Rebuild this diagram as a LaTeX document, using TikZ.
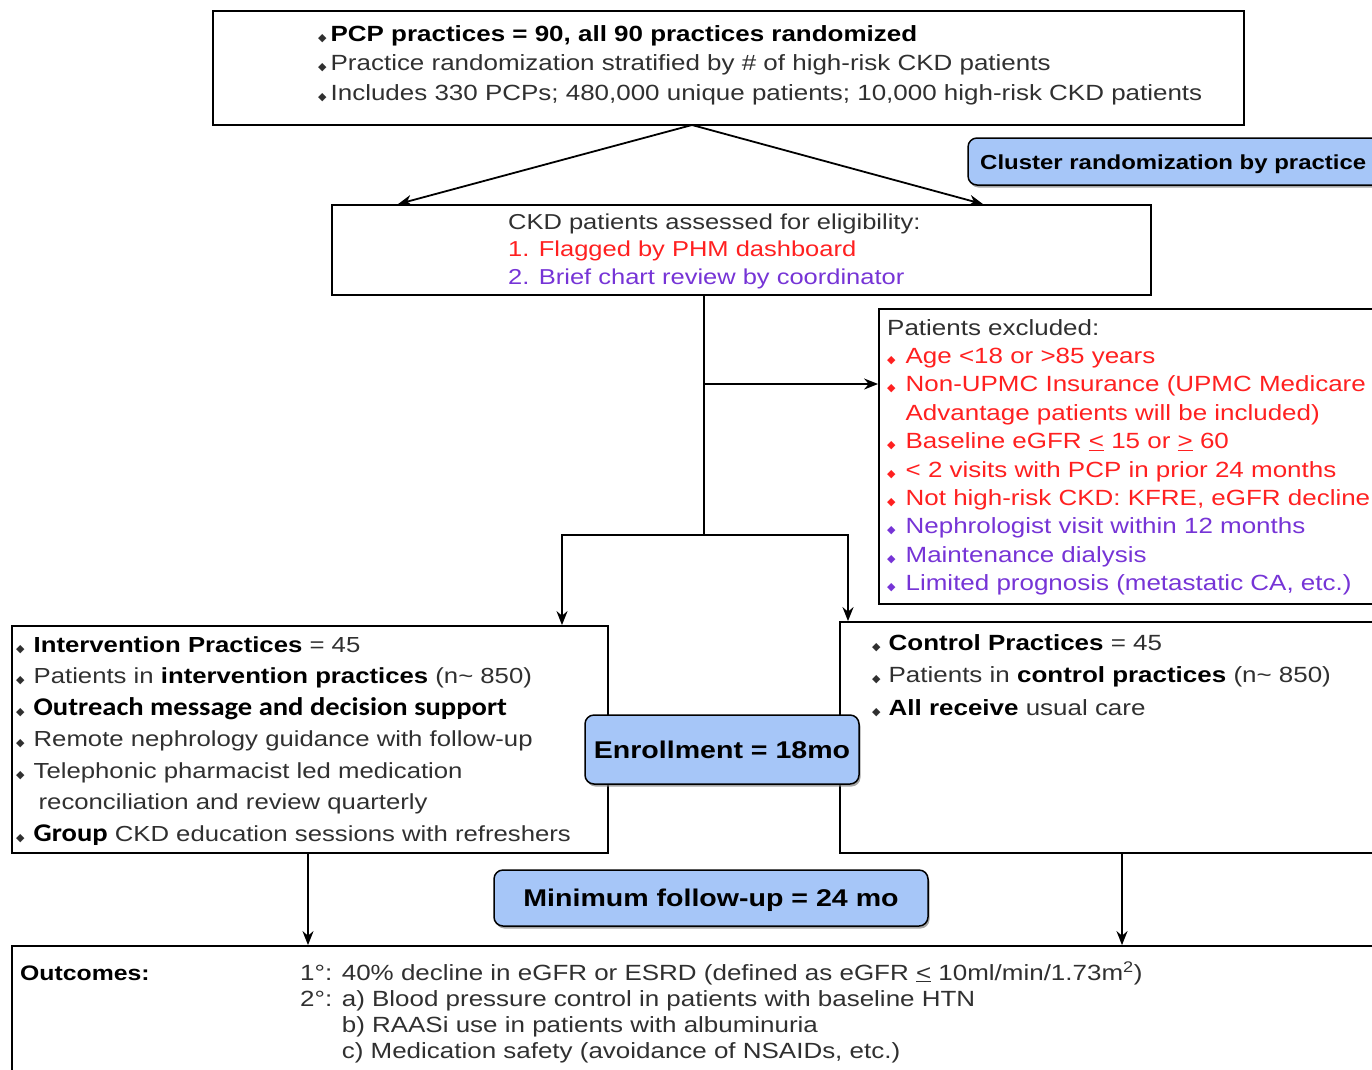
\documentclass[tikz,border=0pt]{standalone}
\usepackage{fontspec}
\setmainfont[FakeStretch=1.18]{Liberation Sans}
\newfontfamily\symfont{DejaVu Sans}
\newfontfamily\calfont[FakeStretch=1.12]{Carlito}
\usetikzlibrary{arrows.meta,fit,shadows}

\definecolor{flagred}{RGB}{255,32,32}
\definecolor{chartpurple}{RGB}{118,52,214}
\definecolor{phaseblue}{RGB}{166,198,248}
\definecolor{bodygray}{RGB}{48,48,48}

% small diamond bullet, optional gap after it
\newcommand{\dia}[1][5pt]{{\symfont\fontsize{11}{11}\selectfont ◆}\hspace{#1}}
\newcommand{\hi}[1]{\textbf{\color{black}#1}}
\newcommand{\hical}[1]{{\calfont\bfseries\color{black}\fontsize{25.5}{25}\selectfont #1}}

\tikzset{
  box/.style={draw, line width=1.8pt, inner sep=0pt},
  phase/.style={draw, line width=1.5pt, rounded corners=9pt, fill=phaseblue,
    inner sep=0pt,
    drop shadow={shadow xshift=1.5pt, shadow yshift=-2.5pt, opacity=0.7}},
  phaselabel/.style={inner sep=0pt, font=\bfseries\fontsize{24.2}{24}\selectfont,
    text height=17pt, text depth=0pt},
  arr/.style={-{Stealth[length=14pt,width=11pt]}, line width=1.8pt},
  txt/.style={anchor=base west, align=left, inner sep=0pt, text=bodygray},
}

\begin{document}
\begin{tikzpicture}[x=1pt, y=-1pt]
  \useasboundingbox (0,0) rectangle (1372,1069);
  \clip (0,0) rectangle (1372,1069);

  % boxes
  \node[box, fit={(213,11) (1244,125)}] (pcp) {};
  \node[phase, fit={(968,138) (1390,185)}] (cluster) {};
  \node[box, fit={(332,205) (1151,295)}] (elig) {};
  \node[box, fit={(879,309) (1390,604)}] (excl) {};
  \node[box, fit={(12,626) (608,853)}] (interv) {};
  \node[box, fit={(840,622) (1390,853)}] (control) {};
  \node[phase, fit={(585,715) (859,784)},
    label={[phaselabel]center:Enrollment = 18mo}] (enroll) {};
  \node[phase, fit={(494,870) (928,926)},
    label={[phaselabel]center:Minimum follow-up = 24 mo}] (follow) {};
  \node[box, fit={(12,946) (1390,1090)}] (outc) {};

  % texts (anchored at the baseline of their last line)
  \node[txt, font=\fontsize{22}{29.5}\selectfont] (pcptxt) at (318,100)
    {\dia[4pt]\hi{PCP practices = 90, all 90 practices randomized}\\
     \dia[4pt]Practice randomization stratified by \# of high-risk CKD patients\\
     \dia[4pt]Includes 330 PCPs; 480,000 unique patients; 10,000 high-risk CKD patients};
  \node[txt, text=black, font=\bfseries\fontsize{20.3}{20}\selectfont] (clustertxt) at (980,169)
    {Cluster randomization by practice};
  \node[txt, font=\fontsize{21.6}{27.5}\selectfont] (eligtxt) at (508,284)
    {CKD patients assessed for eligibility:\\
     \textcolor{flagred}{1. Flagged by PHM dashboard}\\
     \textcolor{chartpurple}{2. Brief chart review by coordinator}};
  \node[txt, font=\fontsize{22}{28.4}\selectfont] (excltxt) at (887,590.6)
    {Patients excluded:\\
     \color{flagred}\dia[10pt]Age <18 or >85 years\\
     \color{flagred}\dia[10pt]Non-UPMC Insurance (UPMC Medicare\\
     \color{flagred}\phantom{\dia[10pt]}Advantage patients will be included)\\
     \color{flagred}\dia[10pt]Baseline eGFR \underline{<} 15 or \underline{>} 60\\
     \color{flagred}\dia[10pt]< 2 visits with PCP in prior 24 months\\
     \color{flagred}\dia[10pt]Not high-risk CKD: KFRE, eGFR decline\\
     \color{chartpurple}\dia[10pt]Nephrologist visit within 12 months\\
     \color{chartpurple}\dia[10pt]Maintenance dialysis\\
     \color{chartpurple}\dia[10pt]Limited prognosis (metastatic CA, etc.)};
  \node[txt, font=\fontsize{21.8}{31.5}\selectfont] (intervtxt) at (16,841)
    {\dia[9pt]\hi{Intervention Practices} = 45\\
     \dia[9pt]Patients in \hi{intervention practices} (n\textasciitilde{} 850)\\
     \dia[9pt]\hical{Outreach message and decision support}\\
     \dia[9pt]Remote nephrology guidance with follow-up\\
     \dia[9pt]Telephonic pharmacist led medication\\
     \phantom{\dia[9pt]}\hspace{5pt}reconciliation and review quarterly\\
     \dia[9pt]\hical{Group} CKD education sessions with refreshers};
  \node[txt, font=\fontsize{22}{32.5}\selectfont] (controltxt) at (872,715)
    {\dia[8pt]\hi{Control Practices} = 45\\
     \dia[8pt]Patients in \hi{control practices} (n\textasciitilde{} 850)\\
     \dia[8pt]\hi{All receive} usual care};
  \node[txt, text=black, font=\bfseries\fontsize{21}{21}\selectfont] (outclabel) at (20,980)
    {Outcomes:};
  \node[txt, font=\fontsize{22}{26.3}\selectfont] (outctxt) at (300,1058.9)
    {1°: 40\% decline in eGFR or ESRD (defined as eGFR \underline{<} 10ml/min/1.73m\textsuperscript{2})\\
     2°: a) Blood pressure control in patients with baseline HTN\\
     \phantom{2°: }b) RAASi use in patients with albuminuria\\
     \phantom{2°: }c) Medication safety (avoidance of NSAIDs, etc.)};

  % connectors
  \coordinate (split) at (692,125);
  \coordinate (fork) at (704,535);
  \coordinate (tap) at (704,384);
  \draw[arr] (split) -- (398,0 |- elig.north);
  \draw[arr] (split) -- (983,0 |- elig.north);
  \draw[line width=1.8pt] (fork |- elig.south) -- (fork);
  \draw[arr] (tap) -- (tap -| excl.west);
  \draw[arr] (fork) -| (562,0 |- interv.north);
  \draw[arr] (fork) -| (848,0 |- control.north);
  \draw[arr] (308,0 |- interv.south) -- (308,0 |- outc.north);
  \draw[arr] (1122,0 |- control.south) -- (1122,0 |- outc.north);
\end{tikzpicture}
\end{document}
